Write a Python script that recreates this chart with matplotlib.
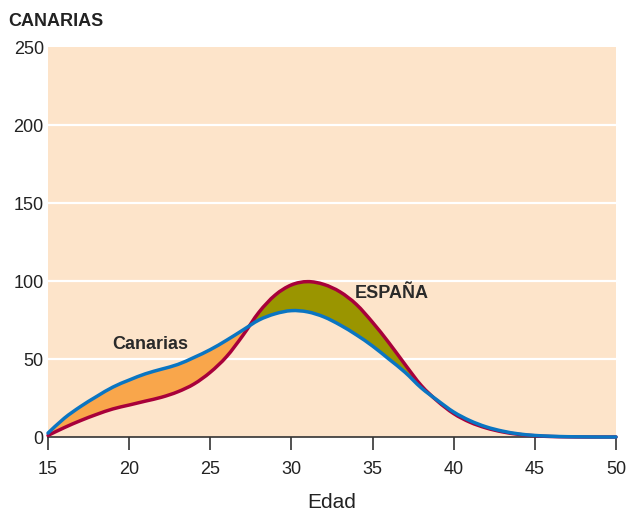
import matplotlib
matplotlib.use("Agg")
import matplotlib.pyplot as plt
from matplotlib.path import Path
from matplotlib.patches import PathPatch
import numpy as np

plt.rcParams['font.family'] = ['Liberation Sans', 'DejaVu Sans']

ages = list(range(15, 51))
canarias = [2.5, 12, 19.5, 26, 32, 36.5, 40.5, 43.5, 46.5, 51,
            56, 62, 68.5, 75, 79, 81, 80.2, 77, 71.8, 65.5,
            58.3, 50, 41.5, 31.5, 23.5, 16, 10.5, 6.5, 3.8, 2,
            1, 0.5, 0.2, 0.1, 0, 0]
espana = [1, 6, 10.5, 14.5, 18, 20.5, 23, 25.5, 29, 34,
          41.5, 51.5, 65, 80, 91, 97.5, 99.6, 97.8, 93, 85,
          73.5, 60.5, 46.5, 33, 23, 15, 9.5, 5.8, 3.3, 1.7,
          0.8, 0.3, 0.1, 0, 0, 0]
x_ticks = [15, 20, 25, 30, 35, 40, 45, 50]
y_ticks = [0, 50, 100, 150, 200, 250]


def smooth_segments(xs, ys):
    """Cubic Bezier segments (Catmull-Rom style) through the data points."""
    pts = np.column_stack([xs, ys]).astype(float)
    n = len(pts)
    verts = []
    for i in range(n - 1):
        p0 = pts[max(i - 1, 0)]
        p1 = pts[i]
        p2 = pts[i + 1]
        p3 = pts[min(i + 2, n - 1)]
        c1 = p1 + (p2 - p0) / 6.0
        c2 = p2 - (p3 - p1) / 6.0
        verts += [c1, c2, p2]
    return pts[0], verts


def open_path(xs, ys):
    start, segs = smooth_segments(xs, ys)
    verts = [start] + segs
    codes = [Path.MOVETO] + [Path.CURVE4] * len(segs)
    return Path(verts, codes)


def band_path(xs, top, bottom):
    s1, seg1 = smooth_segments(xs, top)
    s2, seg2 = smooth_segments(xs[::-1], bottom[::-1])
    verts = [s1] + seg1 + [s2] + seg2 + [s1]
    codes = ([Path.MOVETO] + [Path.CURVE4] * len(seg1) + [Path.LINETO]
             + [Path.CURVE4] * len(seg2) + [Path.CLOSEPOLY])
    return Path(verts, codes)


def under_path(xs, ys):
    s1, seg1 = smooth_segments(xs, ys)
    verts = [s1] + seg1 + [(xs[-1], -10), (xs[0], -10), s1]
    codes = ([Path.MOVETO] + [Path.CURVE4] * len(seg1)
             + [Path.LINETO, Path.LINETO, Path.CLOSEPOLY])
    return Path(verts, codes)


x = np.array(ages, dtype=float)
c = np.array(canarias)
e = np.array(espana)

fig = plt.figure(figsize=(6.29, 5.12), dpi=100)
ax = fig.add_axes([48/629, 1-437/512, 568/629, 390/512])
ax.set_facecolor('#FDE4CA')
ax.set_xlim(15, 50)
ax.set_ylim(0, 250)

for yv in y_ticks[1:-1]:
    ax.axhline(yv, color='white', lw=1.6, zorder=1)

# region between the two curves, split by which one is on top
band = band_path(x, c, e)
under_c = PathPatch(under_path(x, c), transform=ax.transData)
under_e = PathPatch(under_path(x, e), transform=ax.transData)

orange = PathPatch(band, facecolor='#F9A64B', lw=0, zorder=2)
ax.add_patch(orange)
orange.set_clip_path(under_c)

olive = PathPatch(band, facecolor='#9A9500', lw=0, zorder=2)
ax.add_patch(olive)
olive.set_clip_path(under_e)

ax.add_patch(PathPatch(open_path(x, e), facecolor='none', edgecolor='#A8003A',
                       lw=2.5, zorder=3, clip_on=False, capstyle='round'))
ax.add_patch(PathPatch(open_path(x, c), facecolor='none', edgecolor='#0A75C2',
                       lw=2.5, zorder=4, clip_on=False, capstyle='round'))

ax.text(21.3, 59, 'Canarias', fontsize=13, fontweight='bold',
        color='#2a2a2a', ha='center', va='center', zorder=5)
ax.text(36.2, 92, 'ESPAÑA', fontsize=13, fontweight='bold',
        color='#2a2a2a', ha='center', va='center', zorder=5)

for s in ['top', 'right', 'left']:
    ax.spines[s].set_visible(False)
ax.spines['bottom'].set_color('#333333')
ax.spines['bottom'].set_linewidth(1.2)
ax.spines['bottom'].set_zorder(2.5)

ax.set_xticks(x_ticks)
ax.set_yticks(y_ticks)
ax.tick_params(axis='x', direction='out', length=9, width=1.2,
               color='#333333', labelsize=13, labelcolor='#222222', pad=8)
ax.tick_params(axis='y', length=0, labelsize=13, labelcolor='#222222', pad=3)
ax.set_xlabel('Edad', fontsize=15, color='#222222', labelpad=11)

fig.text(8/629, 1-21/512, 'CANARIAS', fontsize=13, fontweight='bold',
         color='#222222', ha='left', va='center')

fig.savefig('out.png', dpi=100)
